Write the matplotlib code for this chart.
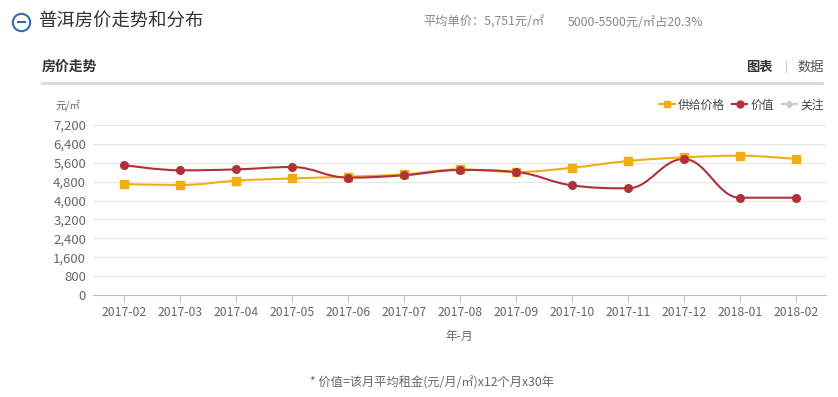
import numpy as np
import matplotlib
matplotlib.use("Agg")
import matplotlib.pyplot as plt
from matplotlib.path import Path
from matplotlib.patches import PathPatch
from matplotlib.lines import Line2D

plt.rcParams['font.family'] = ['Noto Sans CJK SC', 'DejaVu Sans']

months = ["2017-02", "2017-03", "2017-04", "2017-05", "2017-06", "2017-07",
          "2017-08", "2017-09", "2017-10", "2017-11", "2017-12", "2018-01",
          "2018-02"]
supply_price = [4700, 4660, 4840, 4940, 5010, 5110, 5320, 5210, 5390, 5675,
                5830, 5900, 5760]
value_price = [5505, 5280, 5320, 5420, 4970, 5070, 5295, 5210, 4645, 4520,
               5760, 4120, 4120]
y_ticks = [0, 800, 1600, 2400, 3200, 4000, 4800, 5600, 6400, 7200]

YELLOW = "#f2ad14"
RED = "#b0313a"
GRAY_TXT = "#666666"


def spline_path(xs, ys, smoothing=1.5):
    # highcharts style spline: bezier control points per point
    n = len(xs)
    denom = smoothing + 1
    left = [None] * n
    right = [None] * n
    for i in range(n):
        x, y = xs[i], ys[i]
        if i == 0 or i == n - 1:
            left[i] = (x, y)
            right[i] = (x, y)
            continue
        px, py = xs[i - 1], ys[i - 1]
        nx, ny = xs[i + 1], ys[i + 1]
        lcx = (smoothing * x + px) / denom
        lcy = (smoothing * y + py) / denom
        rcx = (smoothing * x + nx) / denom
        rcy = (smoothing * y + ny) / denom
        if rcx != lcx:
            corr = ((rcy - lcy) * (rcx - x)) / (rcx - lcx) + y - rcy
            lcy += corr
            rcy += corr
        if lcy > py and lcy > y:
            lcy = max(py, y)
            rcy = 2 * y - lcy
        elif lcy < py and lcy < y:
            lcy = min(py, y)
            rcy = 2 * y - lcy
        if rcy > ny and rcy > y:
            rcy = max(ny, y)
            lcy = 2 * y - rcy
        elif rcy < ny and rcy < y:
            rcy = min(ny, y)
            lcy = 2 * y - rcy
        left[i] = (lcx, lcy)
        right[i] = (rcx, rcy)
    verts = [(xs[0], ys[0])]
    codes = [Path.MOVETO]
    for i in range(1, n):
        verts += [right[i - 1], left[i], (xs[i], ys[i])]
        codes += [Path.CURVE4] * 3
    return Path(verts, codes)


fig = plt.figure(figsize=(8.38, 3.97), dpi=100)
ax = fig.add_axes([93 / 838, 1 - 295 / 397, (826 - 93) / 838, 170 / 397])

x = np.arange(len(months))
for vals, color, marker, ms in [(supply_price, YELLOW, 's', 5.5),
                                (value_price, RED, 'o', 5.5)]:
    ax.add_patch(PathPatch(spline_path(list(x), list(vals)), facecolor='none',
                           edgecolor=color, lw=1.5, zorder=3))
    ax.plot(x, vals, linestyle='none', marker=marker, ms=ms, color=color,
            zorder=4)

ax.set_xlim(-0.56, 12.54)
ax.set_ylim(0, 7200)
ax.set_yticks(y_ticks)
ax.set_yticklabels(["{:,}".format(v) for v in y_ticks])
ax.set_xticks(x)
ax.set_xticklabels(months)
ax.grid(axis='y', color='#e6e6e6', lw=0.8)
ax.set_axisbelow(True)
for s in ['top', 'right', 'left']:
    ax.spines[s].set_visible(False)
ax.spines['bottom'].set_color('#c0c0c0')
ax.tick_params(axis='y', length=0, labelsize=9.5, labelcolor=GRAY_TXT, pad=5)
ax.tick_params(axis='x', length=5, color='#c0c0c0', labelsize=8.8,
               labelcolor=GRAY_TXT, pad=3)
ax.set_xlabel("年-月", fontsize=8.5, color=GRAY_TXT, labelpad=8)

# header texts
y_title = 1 - 22 / 397
fig.add_artist(Line2D([21 / 838], [y_title], marker='o', ms=12.5,
                      mfc='white', mec='#2e6db4', mew=1.5, ls='none'))
fig.add_artist(Line2D([17.5 / 838, 24.5 / 838], [y_title] * 2,
                      color='#2e6db4', lw=1.5))
fig.text(38 / 838, y_title, "普洱房价走势和分布", fontsize=13.2,
         color='#333333', va='center')
fig.text(423 / 838, y_title, "平均单价：5,751元/㎡", fontsize=8.8,
         color='#888888', va='center')
fig.text(568 / 838, y_title, "5000-5500元/㎡占20.3%", fontsize=8.8,
         color='#888888', va='center')
fig.text(42 / 838, 1 - 67 / 397, "房价走势", fontsize=10, color='#333333',
         va='center', fontweight='bold')
fig.text(773 / 838, 1 - 67 / 397, "图表", fontsize=9.5, color='#333333',
         va='center', ha='right', fontweight='bold')
fig.text(786 / 838, 1 - 67 / 397, "|", fontsize=8, color='#bbbbbb',
         va='center', ha='center')
fig.text(797 / 838, 1 - 67 / 397, "数据", fontsize=9.5, color='#555555',
         va='center')
fig.add_artist(Line2D([42 / 838, 822 / 838], [1 - 83 / 397] * 2,
                      color='#d8d8d8', lw=2))
fig.text(55 / 838, 1 - 105 / 397, "元/㎡", fontsize=7.5, color=GRAY_TXT,
         va='center')

# legend
handles = [Line2D([], [], color=YELLOW, marker='s', ms=5, lw=1.5),
           Line2D([], [], color=RED, marker='o', ms=5, lw=1.5),
           Line2D([], [], color='#cccccc', marker='D', ms=3.5, lw=1.5)]
fig.legend(handles, ["供给价格", "价值", "关注"], loc='center right',
           bbox_to_anchor=(824 / 838, 1 - 105 / 397), ncol=3, frameon=False,
           fontsize=8.5, handlelength=1.3, handletextpad=0.3, columnspacing=0.6,
           labelcolor='#444444', borderaxespad=0, borderpad=0)

fig.text(432 / 838, 1 - 383 / 397, "* 价值=该月平均租金(元/月/㎡)x12个月x30年",
         fontsize=8.8, color=GRAY_TXT, va='center', ha='center')

fig.savefig("out.png", dpi=100)
